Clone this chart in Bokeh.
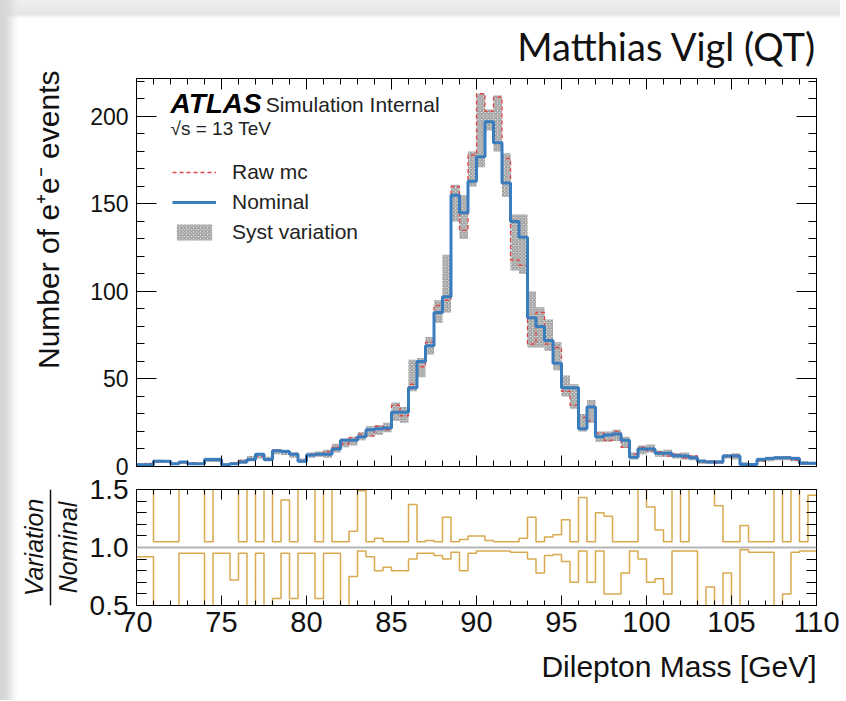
import numpy as np
from bokeh.plotting import figure
from bokeh.layouts import column, row
from bokeh.models import (Range1d, LinearAxis, SingleIntervalTicker, Label, Span,
                          Legend, LegendItem, Title, PrintfTickFormatter)
from bokeh.embed import file_html
from bokeh.resources import INLINE

# ---------------- data ----------------
bin_edges = np.linspace(70.0, 110.0, 81)   # 0.5 GeV bins

nominal = [1.0, 1.0, 3.0, 3.0, 1.5, 2.5, 1.5, 1.5, 4.0, 4.0,
           1.0, 1.5, 2.5, 4.0, 7.0, 4.0, 9.0, 8.5, 7.0, 3.0,
           6.5, 7.0, 7.0, 10.0, 15.0, 15.0, 17.0, 21.0, 21.5, 22.0,
           31.0, 31.0, 45.0, 60.0, 69.0, 88.0, 97.0, 155.0, 145.0, 163.0,
           177.0, 197.0, 185.0, 162.0, 140.0, 131.0, 85.0, 80.0, 72.0, 59.0,
           45.0, 45.0, 21.5, 34.0, 17.0, 18.0, 18.5, 15.0, 5.3, 10.0,
           10.0, 7.5, 7.5, 6.2, 6.0, 5.0, 3.0, 2.5, 2.5, 6.0,
           6.0, 1.2, 1.2, 4.0, 4.5, 5.0, 5.0, 4.5, 1.9, 1.9]

raw_mc = [1.2, 1.8, 2.5, 3.2, 1.5, 2.0, 2.2, 1.2, 4.5, 3.5,
          1.2, 2.0, 3.5, 4.0, 6.0, 4.5, 9.5, 9.0, 7.5, 3.5,
          7.0, 6.5, 8.5, 11.0, 13.0, 16.5, 18.5, 17.5, 23.0, 21.0,
          35.0, 29.0, 47.0, 57.0, 71.0, 92.0, 95.0, 160.0, 135.0, 178.0,
          213.0, 203.0, 211.0, 176.0, 118.0, 115.0, 70.0, 88.0, 70.0, 68.0,
          43.0, 35.0, 28.0, 26.0, 19.0, 15.0, 20.0, 11.0, 7.0, 11.0,
          9.0, 8.5, 6.0, 7.0, 5.0, 6.0, 2.5, 3.0, 2.0, 5.5,
          6.5, 1.5, 0.8, 3.0, 5.0, 4.5, 5.5, 3.5, 1.5, 2.0]

syst_lo = [0.3, 0.5, 2.0, 2.0, 0.8, 1.5, 0.8, 0.8, 2.5, 2.5,
           0.3, 0.8, 1.5, 3.0, 4.5, 3.0, 7.0, 6.5, 5.0, 2.0,
           5.0, 5.5, 5.0, 8.0, 11.0, 12.0, 15.0, 17.0, 18.0, 19.5,
           26.0, 25.0, 43.0, 51.0, 64.0, 82.0, 88.0, 140.0, 130.0, 160.0,
           171.0, 192.0, 180.0, 154.0, 112.0, 110.0, 68.0, 68.0, 66.0, 55.0,
           40.0, 33.0, 20.0, 25.0, 14.0, 14.0, 14.5, 10.5, 4.0, 7.0,
           8.0, 5.5, 5.5, 4.5, 4.0, 3.5, 1.5, 1.5, 1.5, 4.5,
           4.0, 0.5, 0.5, 2.5, 3.0, 3.5, 3.5, 3.0, 1.0, 1.0]

syst_hi = [1.8, 2.0, 3.8, 3.5, 2.5, 3.2, 2.5, 2.2, 5.0, 5.0,
           2.0, 2.5, 4.0, 6.0, 7.5, 5.5, 10.0, 9.5, 8.0, 4.5,
           8.0, 8.5, 9.5, 13.0, 16.0, 17.0, 19.5, 23.0, 23.5, 25.0,
           36.5, 34.0, 61.0, 62.0, 74.0, 95.0, 121.0, 161.0, 155.0, 180.0,
           213.0, 204.0, 212.0, 179.0, 144.0, 144.0, 100.0, 91.0, 84.0, 71.0,
           52.0, 47.0, 30.0, 38.0, 20.0, 20.0, 21.0, 17.0, 8.0, 12.0,
           12.5, 9.0, 9.5, 7.5, 8.0, 6.5, 4.0, 3.5, 3.5, 7.0,
           7.5, 2.5, 2.0, 5.0, 5.5, 6.0, 6.0, 5.5, 3.0, 2.5]

ratio_up = [3.0, 3.0, 1.05, 1.05, 1.05, 3.0, 3.0, 3.0, 1.05, 3.0,
            3.0, 3.0, 1.05, 3.0, 1.05, 3.0, 1.05, 1.41, 1.05, 3.0,
            3.0, 1.05, 3.0, 1.05, 1.05, 1.14, 1.49, 1.05, 1.08, 1.05,
            1.05, 1.05, 1.37, 1.05, 1.06, 1.05, 1.26, 1.05, 1.07, 1.10,
            1.10, 1.06, 1.05, 1.05, 1.05, 1.08, 1.26, 1.05, 1.09, 1.11,
            1.24, 1.05, 1.43, 1.05, 1.30, 1.27, 1.05, 1.05, 1.05, 3.0,
            1.35, 1.15, 1.05, 3.0, 1.05, 3.0, 3.0, 3.0, 1.36, 1.05,
            1.05, 1.19, 1.05, 1.05, 1.05, 3.0, 1.05, 3.0, 1.05, 1.45]

ratio_down = [0.92, 0.92, 0.30, 0.30, 0.30, 0.95, 0.95, 0.95, 0.30, 0.95,
              0.95, 0.72, 0.95, 0.30, 0.95, 0.30, 0.56, 0.95, 0.56, 0.95,
              0.95, 0.56, 0.95, 0.95, 0.30, 0.75, 0.97, 0.92, 0.80, 0.83,
              0.80, 0.80, 0.90, 0.95, 0.95, 0.93, 0.90, 0.96, 0.80, 0.95,
              0.97, 0.97, 0.97, 0.97, 0.96, 0.96, 0.90, 0.78, 0.93, 0.94,
              0.88, 0.70, 0.97, 0.70, 0.97, 0.60, 0.60, 0.78, 0.97, 0.90,
              0.70, 0.73, 0.60, 0.97, 0.97, 0.97, 0.30, 0.66, 0.30, 0.78,
              0.30, 0.98, 0.96, 0.96, 0.96, 0.30, 0.60, 0.96, 0.97, 0.97]

top_y_max = 221.7
FONT = "Liberation Sans"


def step_y(vals):
    return list(vals) + [vals[-1]]


def make_axis(ticker, major_in, minor_in, labels, size="23px", standoff=8, fmt=None):
    ax = LinearAxis(ticker=ticker)
    if fmt is not None:
        ax.formatter = fmt
    ax.major_tick_in = major_in
    ax.major_tick_out = 0
    ax.minor_tick_in = minor_in
    ax.minor_tick_out = 0
    ax.axis_line_color = "black"
    ax.major_tick_line_color = "black"
    ax.minor_tick_line_color = "black"
    if labels:
        ax.major_label_text_font = FONT
        ax.major_label_text_font_size = size
        ax.major_label_text_color = "#111111"
        ax.major_label_standoff = standoff
    else:
        ax.major_label_text_font_size = "0px"
        ax.major_label_standoff = 0
    return ax


# ---------------- top panel ----------------
top = figure(width=840, height=496, x_range=Range1d(70, 110), y_range=Range1d(0, top_y_max),
             output_backend="svg", toolbar_location=None,
             x_axis_type=None, y_axis_type=None, title="Matthias Vigl (QT)",
             min_border_left=136, min_border_right=24, min_border_top=78, min_border_bottom=30)
top.title.align = "right"
top.title.text_font = "Lato"
top.title.text_font_size = "38px"
top.title.text_font_style = "normal"
top.title.text_color = "#111111"
top.title.standoff = 20
top.outline_line_color = "black"
top.border_fill_color = None
top.background_fill_color = "white"
top.xgrid.visible = False
top.ygrid.visible = False

xt = SingleIntervalTicker(interval=5, num_minor_ticks=5)
yt = SingleIntervalTicker(interval=50, num_minor_ticks=5)
top.add_layout(make_axis(yt, 20, 8, True), "left")
top.add_layout(make_axis(yt, 20, 8, False), "right")
top.add_layout(make_axis(xt, 11, 6, False), "below")
top.add_layout(make_axis(xt, 11, 6, False), "above")

top.add_layout(Title(text="Number of e\u207Ae\u207B events", align="right", text_font=FONT,
                     text_font_size="30px", text_font_style="normal", text_color="#111111",
                     standoff=45, offset=-8), "left")

band = top.quad(left=bin_edges[:-1], right=bin_edges[1:], bottom=syst_lo, top=syst_hi,
                fill_color="#c4c4c4", fill_alpha=0.6, line_color=None,
                hatch_pattern="x", hatch_color="#8c8c8c", hatch_scale=3.5, hatch_weight=1)
raw = top.step(x=bin_edges, y=step_y(raw_mc), mode="after", line_color="#e04545",
               line_width=1.3, line_dash="4 3")
nom = top.step(x=bin_edges, y=step_y(nominal), mode="after", line_color="#3a7dbf",
               line_width=3)

legend = Legend(items=[LegendItem(label="Raw mc", renderers=[raw]),
                       LegendItem(label="Nominal", renderers=[nom]),
                       LegendItem(label="Syst variation", renderers=[band])],
                location=(36, 222), orientation="vertical")
legend.label_text_font = FONT
legend.label_text_font_size = "21px"
legend.label_text_color = "#222222"
legend.glyph_width = 44
legend.glyph_height = 20
legend.label_height = 20
legend.spacing = 6
legend.label_standoff = 16
legend.padding = 0
legend.margin = 0
legend.border_line_color = None
legend.background_fill_alpha = 0
top.add_layout(legend, "center")

top.add_layout(Label(x=72.0, y=207.4, text="ATLAS", text_font=FONT, text_font_size="28px",
                     text_font_style="bold italic", text_color="black",
                     text_baseline="middle"))
top.add_layout(Label(x=77.6, y=206.9, text="Simulation Internal", text_font=FONT,
                     text_font_size="21px", text_color="#222222", text_baseline="middle"))
top.add_layout(Label(x=72.0, y=193.1, text="\u221As = 13 TeV", text_font=FONT,
                     text_font_size="19px", text_color="#222222", text_baseline="middle"))

# ---------------- ratio panel ----------------
bot = figure(width=760, height=229, x_range=top.x_range, y_range=Range1d(0.5, 1.5),
             output_backend="svg", toolbar_location=None,
             x_axis_type=None, y_axis_type=None,
             min_border_left=56, min_border_right=24, min_border_top=18, min_border_bottom=95)
bot.outline_line_color = "black"
bot.border_fill_color = None
bot.background_fill_color = "white"
bot.xgrid.visible = False
bot.ygrid.visible = False

rt = SingleIntervalTicker(interval=0.5, num_minor_ticks=5)
xt2 = SingleIntervalTicker(interval=5, num_minor_ticks=5)
bot.add_layout(make_axis(rt, 20, 10, True, size="28px", standoff=8,
                         fmt=PrintfTickFormatter(format="%.1f")), "left")
bot.add_layout(make_axis(rt, 20, 10, False), "right")
bot.add_layout(make_axis(xt2, 10, 5, True, size="29px", standoff=6), "below")
bot.add_layout(make_axis(xt2, 10, 5, False), "above")
bot.add_layout(Title(text="Dilepton Mass [GeV]", align="right", text_font=FONT,
                     text_font_size="30px", text_font_style="normal", text_color="#111111",
                     standoff=26), "below")

bot.add_layout(Span(location=1.0, dimension="width", line_color="#b5b5b5", line_width=2))
bot.step(x=bin_edges, y=step_y(ratio_up), mode="after", line_color="#d8a94f", line_width=1.5)
bot.step(x=bin_edges, y=step_y(ratio_down), mode="after", line_color="#d8a94f", line_width=1.5)

# side box holding the "Variation / Nominal" fraction title
lab = figure(width=80, height=229, x_range=Range1d(0, 80), y_range=Range1d(0.5, 1.5),
             output_backend="svg", toolbar_location=None,
             x_axis_type=None, y_axis_type=None,
             min_border_left=0, min_border_right=0, min_border_top=18, min_border_bottom=95)
lab.outline_line_color = None
lab.border_fill_color = None
lab.background_fill_color = None
lab.xgrid.visible = False
lab.ygrid.visible = False
lab.add_layout(Label(x=33, y=1.0, text="Variation", text_font=FONT, text_font_size="25px",
                     text_font_style="italic", text_color="#111111", angle=np.pi / 2,
                     text_align="center", text_baseline="middle"))
lab.add_layout(Label(x=67, y=1.0, text="Nominal", text_font=FONT, text_font_size="25px",
                     text_font_style="italic", text_color="#111111", angle=np.pi / 2,
                     text_align="center", text_baseline="middle"))
lab.add_layout(Span(location=50, dimension="height", line_color="#111111", line_width=1.5))

page_style = {
    "background-color": "white",
    "background-image": "linear-gradient(to bottom, #efefef, #e6e6e6 75%, #ffffff)",
    "background-size": "100% 19px",
    "background-repeat": "no-repeat",
    "background-position": "left top",
    "box-shadow": "inset 17px 0 8px -6px #d6d6d6",
}
ratio_row = row(lab, bot, styles={"margin-top": "-25px"})
layout = column(top, ratio_row, styles=page_style)
open("out.html", "w").write(file_html(layout, INLINE))
